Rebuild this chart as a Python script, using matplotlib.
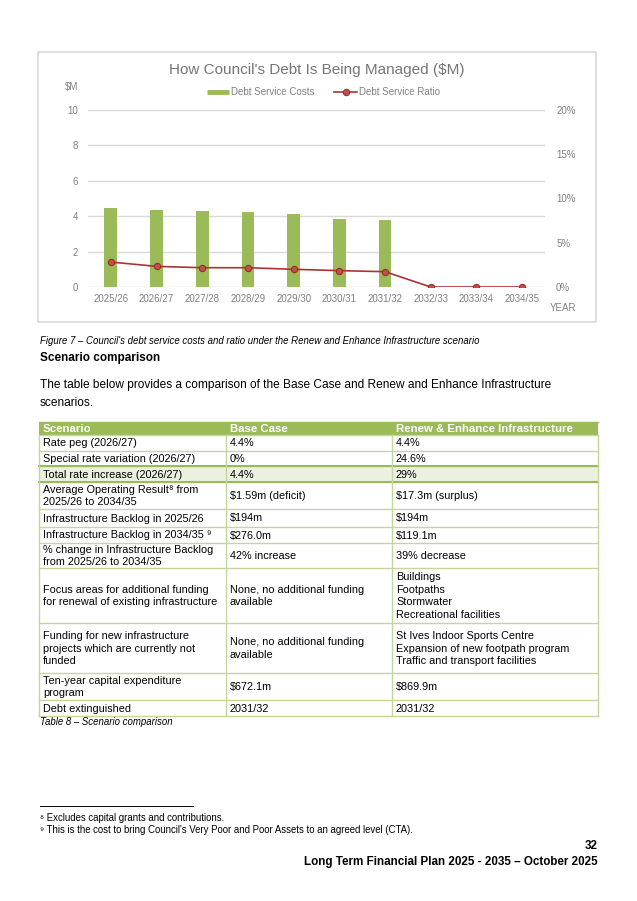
import matplotlib
matplotlib.use("Agg")
import matplotlib.pyplot as plt
from matplotlib.patches import Rectangle
from matplotlib.ticker import PercentFormatter

plt.rcParams['font.family'] = ['Liberation Sans', 'DejaVu Sans']

# chart data
years = ["2025/26", "2026/27", "2027/28", "2028/29", "2029/30",
         "2030/31", "2031/32", "2032/33", "2033/34", "2034/35"]
debt_costs = [4.45, 4.37, 4.30, 4.22, 4.13, 3.87, 3.80, 0, 0, 0]
debt_ratio = [0.0282, 0.0233, 0.0218, 0.0218, 0.0200, 0.0185, 0.0173, 0, 0, 0]

# table data
table_header = ["Scenario", "Base Case", "Renew & Enhance Infrastructure"]
table_rows = [
    ["Rate peg (2026/27)", "4.4%", "4.4%"],
    ["Special rate variation (2026/27)", "0%", "24.6%"],
    ["Total rate increase (2026/27)", "4.4%", "29%"],
    ["Average Operating Result\u2078 from\n2025/26 to 2034/35", "$1.59m (deficit)", "$17.3m (surplus)"],
    ["Infrastructure Backlog in 2025/26", "$194m", "$194m"],
    ["Infrastructure Backlog in 2034/35 \u2079", "$276.0m", "$119.1m"],
    ["% change in Infrastructure Backlog\nfrom 2025/26 to 2034/35", "42% increase", "39% decrease"],
    ["Focus areas for additional funding\nfor renewal of existing infrastructure",
     "None, no additional funding\navailable",
     "Buildings\nFootpaths\nStormwater\nRecreational facilities"],
    ["Funding for new infrastructure\nprojects which are currently not\nfunded",
     "None, no additional funding\navailable",
     "St Ives Indoor Sports Centre\nExpansion of new footpath program\nTraffic and transport facilities"],
    ["Ten-year capital expenditure\nprogram", "$672.1m", "$869.9m"],
    ["Debt extinguished", "2031/32", "2031/32"],
]
highlight_row = 2

W, H = 637, 901
fig = plt.figure(figsize=(W / 100, H / 100), dpi=100)

# page overlay in pixel coordinates
pg = fig.add_axes([0, 0, 1, 1])
pg.set_xlim(0, W)
pg.set_ylim(H, 0)
pg.axis("off")

# chart frame
pg.add_patch(Rectangle((38, 52), 558, 270, fill=False, ec="#D9D9D9", lw=1.2))

# chart axes
ax_l, ax_r, ax_t, ax_b = 88, 545, 110, 287
ax = fig.add_axes([ax_l / W, 1 - ax_b / H, (ax_r - ax_l) / W, (ax_b - ax_t) / H])
ax.set_facecolor("none")
x = list(range(len(years)))
ax.bar(x, debt_costs, width=0.28, color="#9BBB59", zorder=2)
ax.set_xlim(-0.5, len(years) - 0.5)
ax.set_ylim(0, 10)
ax.set_yticks([0, 2, 4, 6, 8, 10])
ax.set_xticks(x)
ax.set_xticklabels(years)
ax.grid(axis="y", color="#D9D9D9", lw=1, zorder=0)
for s in ax.spines.values():
    s.set_visible(False)
ax.tick_params(length=0, colors="#808080", labelsize=7)
ax.tick_params(axis="y", pad=7)
ax.tick_params(axis="x", pad=5)

ax2 = ax.twinx()
ax2.plot(x, debt_ratio, color="#A93532", lw=1.2, marker="o", ms=4.5,
         mfc="#C0504D", mec="#9E2A27", mew=0.8, zorder=3)
ax2.set_ylim(0, 0.2)
ax2.set_yticks([0, 0.05, 0.10, 0.15, 0.20])
ax2.yaxis.set_major_formatter(PercentFormatter(1.0, decimals=0))
for s in ax2.spines.values():
    s.set_visible(False)
ax2.tick_params(length=0, colors="#808080", labelsize=7, pad=8)

gray = "#808080"
pg.text(317, 70, "How Council's Debt Is Being Managed ($M)", ha="center", va="center",
        fontsize=11, color="#767676")
pg.text(72, 87, "$M", ha="center", va="center", fontsize=7, color=gray)
pg.text(563, 308, "YEAR", ha="center", va="center", fontsize=7, color=gray)

# legend
pg.plot([207, 229], [92, 92], color="#9BBB59", lw=3.5, solid_capstyle="butt")
pg.text(231, 92, "Debt Service Costs", va="center", fontsize=7, color=gray)
pg.plot([334, 357], [92, 92], color="#A93532", lw=1.2)
pg.plot([345.5], [92], marker="o", ms=4.5, mfc="#C0504D", mec="#9E2A27", mew=0.8)
pg.text(359, 92, "Debt Service Ratio", va="center", fontsize=7, color=gray)

# text below chart
pg.text(40, 341, "Figure 7 \u2013 Council's debt service costs and ratio under the Renew and "
        "Enhance Infrastructure scenario", va="center", fontsize=6.9, style="italic")
pg.text(40, 358, "Scenario comparison", va="center", fontsize=8.5, weight="bold")
pg.text(40, 385, "The table below provides a comparison of the Base Case and Renew and "
        "Enhance Infrastructure", va="center", fontsize=8.6)
pg.text(40, 403, "scenarios.", va="center", fontsize=8.6)

# table
col_x = [39, 226, 392, 598]
row_y = [422, 435, 451, 466, 482, 509, 527, 543, 568, 623, 673, 700, 716]
light = "#C3D69B"
dark = "#9BBB59"
pg.add_patch(Rectangle((col_x[0], row_y[0]), col_x[-1] - col_x[0], row_y[1] - row_y[0],
                       fc=dark, ec="none"))
hy0, hy1 = row_y[highlight_row + 1], row_y[highlight_row + 2]
pg.add_patch(Rectangle((col_x[0], hy0), col_x[-1] - col_x[0], hy1 - hy0,
                       fc="#EBF1DE", ec="none"))
for y in row_y[1:]:
    pg.plot([col_x[0], col_x[-1]], [y, y], color=light, lw=1)
for y in (hy0, hy1):
    pg.plot([col_x[0], col_x[-1]], [y, y], color=dark, lw=1.5)
for cx in col_x:
    pg.plot([cx, cx], [row_y[1], row_y[-1]], color=light, lw=1)
pg.plot([col_x[0], col_x[-1]], [row_y[0], row_y[0]], color=dark, lw=1)

for j, t in enumerate(table_header):
    pg.text(col_x[j] + 4, (row_y[0] + row_y[1]) / 2 + 0.5, t, va="center",
            fontsize=8.2, weight="bold", color="white")
for i, row in enumerate(table_rows):
    yc = (row_y[i + 1] + row_y[i + 2]) / 2 + 0.5
    for j, t in enumerate(row):
        pg.text(col_x[j] + 4, yc, t, va="center", fontsize=7.8, linespacing=1.33)

pg.text(40, 722, "Table 8 \u2013 Scenario comparison", va="center", fontsize=6.9, style="italic")

# footnotes
pg.plot([40, 193], [806, 806], color="black", lw=0.7)
pg.text(40, 818, "\u2078 Excludes capital grants and contributions.", va="center", fontsize=6.9)
pg.text(40, 830, "\u2079 This is the cost to bring Council's Very Poor and Poor Assets to an "
        "agreed level (CTA).", va="center", fontsize=6.9)
pg.text(598, 846, "32", ha="right", va="center", fontsize=8.4, weight="bold")
pg.text(598, 862, "Long Term Financial Plan 2025 - 2035 \u2013 October 2025", ha="right",
        va="center", fontsize=8.4, weight="bold")

fig.savefig("out.png", dpi=100)
